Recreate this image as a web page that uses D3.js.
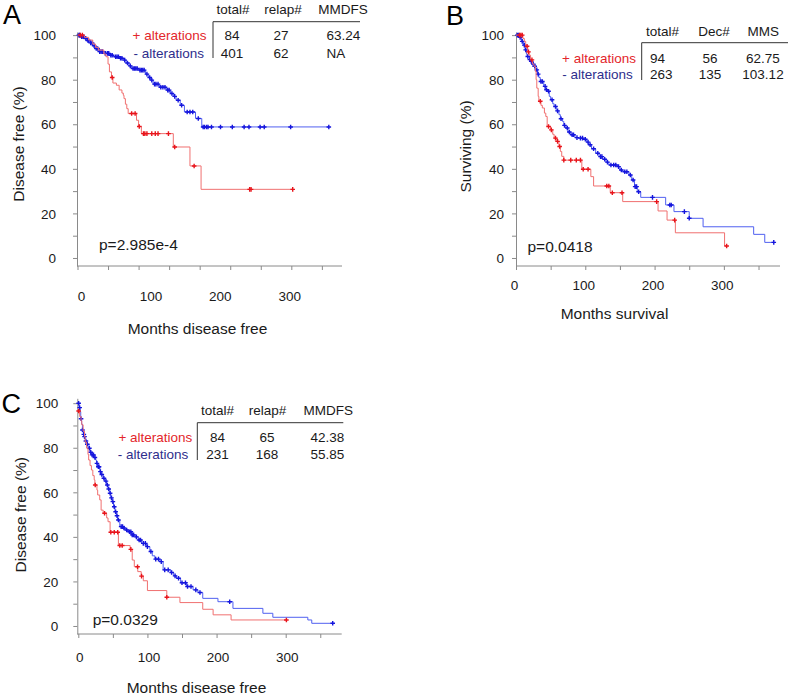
<!DOCTYPE html>
<html><head><meta charset="utf-8">
<script src="https://cdn.jsdelivr.net/npm/d3@7"></script>
<style>body{margin:0;background:#fff}svg{display:block}text{font-family:"Liberation Sans",Arial,sans-serif}</style>
</head><body><svg id="c" width="790" height="696"></svg>
<script>
// ---------------- data ----------------
const xTickLabels = [0, 100, 200, 300];
const yTickValues = [0, 10, 20, 30, 40, 50, 60, 70, 80, 90, 100];
const xTickMarksA = [0, 44, 88, 132, 176, 220, 264, 308, 352];
const xTickMarksBC = [0, 50, 100, 150, 200, 250, 300, 350];
const seriesNames = ["+ alterations", "- alterations"];

const tableHeadA = ["total#", "relap#", "MMDFS"];
const tableRowsA = [["84", "27", "63.24"], ["401", "62", "NA"]];
const tableHeadB = ["total#", "Dec#", "MMS"];
const tableRowsB = [["94", "56", "62.75"], ["263", "135", "103.12"]];
const tableHeadC = ["total#", "relap#", "MMDFS"];
const tableRowsC = [["84", "65", "42.38"], ["231", "168", "55.85"]];
const pValues = ["p=2.985e-4", "p=0.0418", "p=0.0329"];
const axisTitles = {A: ["Months disease free", "Disease free (%)"], B: ["Months survival", "Surviving (%)"], C: ["Months disease free", "Disease free (%)"]};

// Kaplan-Meier steps [month, percent] and censor times (months)
const stepsA_alt = [[0,100],[10,99],[16,97.8],[22,96],[26,94.5],[30,93.3],[38,91.5],[41,90.3],[44,87],[46,83.5],[49,81],[51,78.5],[56,77.5],[60,75.4],[64,74],[66,73],[67,71.5],[69,69],[71,67],[73,64.8],[85,61.8],[88,59],[92,55.8],[138,49.8],[162,41.3],[178,30.8]];
const censorA_alt = [4,7,50,78,83,89,95,97,100,107,112,116,131,140,168,248,250,310];
const stepsA_no = [[0,100],[5,99.3],[10,98.5],[14,97.6],[18,96.5],[22,95.2],[26,94],[30,92.6],[38,91.8],[46,91],[52,90.3],[60,89.6],[66,88.8],[70,87.5],[74,86.2],[78,85],[88,84.3],[98,82.5],[102,81],[105,79.8],[109,78],[118,76.6],[128,75.3],[134,73.8],[138,72.5],[142,70.8],[148,68.5],[154,65.5],[170,62.6],[179,58.8]];
const censorA_no = [2,3,6,8,9,12,15,16,19,21,24,27,29,32,34,36,40,43,45,48,50,55,57,59,62,64,68,72,76,80,82,84,86,90,92,94,96,100,104,107,111,113,116,120,123,126,130,132,136,140,145,150,158,162,166,174,181,183,186,188,193,206,223,240,247,263,269,307,362];

const stepsB_alt = [[0,100],[10,98.5],[12,97.2],[14,95],[17,92.5],[19,91],[21,88.9],[24,87],[26,86],[28,83.7],[29,80],[30,76.2],[32,72.5],[33,70.3],[36,68.5],[38,67.3],[41,65],[43,63.5],[45,59],[50,57.5],[53,55.5],[55,53.8],[59,52.3],[62,50],[64,47.8],[66,45.6],[69,43.9],[95,39.8],[108,36.5],[112,32.3],[136,29.3],[154,25.3],[205,21.1],[218,17],[230,11.3],[301,5.4]];
const censorB_alt = [5,7,9,16,18,23,35,47,51,57,60,63,69,79,87,93,97,104,131,134,139,153,203,229,304];
const stepsB_no = [[0,100],[5,99],[8,97.2],[11,95.5],[13,93.4],[15,91.5],[16,90.4],[19,89],[21,88.2],[23,87],[26,86],[28,84.4],[31,82.5],[33,81],[35,79.2],[40,77],[43,75.5],[45,74.8],[48,72.5],[50,71],[53,69.2],[55,68],[58,66],[62,64.3],[64,62.5],[67,61.3],[69,59.5],[72,58.3],[75,56.5],[79,55.3],[85,54],[90,53.8],[97,53.3],[102,52],[105,50.8],[109,49],[115,47],[120,45.5],[125,44.3],[130,43],[134,41.7],[146,41],[150,39.5],[154,38.7],[163,37.2],[167,35],[171,32],[175,29.7],[180,27.2],[216,23.8],[228,20.8],[250,17.8],[270,14],[343,10.6],[359,7]];
const censorB_no = [2,4,6,9,12,14,17,20,22,25,27,30,32,36,38,42,44,47,52,57,60,65,70,74,77,81,83,88,93,96,100,104,107,112,118,122,124,128,132,137,141,144,148,152,157,160,165,169,172,174,177,197,222,224,243,250,372];

const stepsC_alt = [[0,96.5],[2,94],[4,92],[5,90.3],[7,87.5],[9,85],[10,82.5],[12,79.8],[14,77],[15,74.5],[17,72],[19,70],[21,67.5],[23,65.6],[24,63.3],[27,61],[28,58.8],[31,56.6],[33,52],[36,50.6],[41,48.5],[43,46.8],[46,42.1],[58,36.1],[75,34.4],[78,29.6],[81,26.6],[86,24.4],[91,22.4],[94,20.3],[100,15.9],[128,12.9],[147,10.5],[180,7.5],[195,5],[221,2.7]];
const censorC_alt = [0.5,24.5,38,47,52,57,60,63.5,76,85.7,91.5,128,301];
const stepsC_no = [[0,100],[1,98],[2.5,96.2],[3.5,93],[4.8,90.6],[6,88],[7.5,86],[8.7,85],[10,83],[12,81.6],[15.4,79.8],[17,78],[19.3,76.8],[24,75.6],[25,74.5],[26.5,73],[28,71.5],[31.3,69.3],[33,68],[36,66.3],[38,65],[41,63.3],[43,61.5],[45.7,59.6],[47,57.5],[49,55.8],[51,53.5],[53,51.3],[55,49.5],[56.8,47.6],[60,44.6],[65,44],[67.4,43.1],[72,42.3],[77,40.9],[82,40],[86.6,38.6],[91.5,37.1],[98.7,35.6],[103.5,33.4],[107,31.5],[110.7,30],[118,28.9],[122.7,25.2],[133.8,24],[138,22.5],[142,21.4],[148,19.4],[156.4,17.7],[166,16.2],[173,15],[180,12.4],[202,10.9],[223.7,7.9],[267,5.7],[281.4,3.9],[332,2.7],[337.7,1.2]];
const censorC_no = [0.5,2,4,6,8,9,11,13,16,18,20,22,24,27,29,30,32,34,37,40,42,44,46,48,50,52,54,56,58,62,64,66,70,74,76,78,80,84,88,90,94,97,100,105,112,116,120,125,130,135,140,145,150,155,158,163,170,176,219,368];

// ---------------- style ----------------
const RED_LINE = "#f07070", RED_MARK = "#e8141b", RED_TEXT = "#e3262b";
const BLUE_LINE = "#5060f0", BLUE_MARK = "#1515dd", BLUE_TEXT = "#2e2e8c";
const AXIS = "#8a8a8a", INK = "#1a1a1a";

const svg = d3.select("#c");
svg.append("rect").attr("width", 790).attr("height", 696).attr("fill", "#fff");

function survAt(steps, t) {
  let v = steps[0][1];
  for (const s of steps) { if (s[0] <= t) v = s[1]; }
  return v;
}

function drawPanel(cfg) {
  const g = svg.append("g");
  const x = d3.scaleLinear().domain([0, 381]).range([cfg.x0, cfg.x1]);
  const y = d3.scaleLinear().domain(cfg.yDom).range([cfg.yBot, cfg.yTop]);

  // y axis
  const ya = g.append("g").attr("transform", `translate(${cfg.yAxisX},0)`)
    .call(d3.axisLeft(y).tickValues(yTickValues).tickSize(4).tickSizeOuter(0)
      .tickPadding(cfg.yPad).tickFormat(d => d % 20 === 0 ? d : ""));
  ya.selectAll("path,line").attr("stroke", AXIS);
  ya.selectAll("text").attr("fill", INK).style("font-size", "13.5px").attr("dy", "0.35em")
    .style("font-family", '"Liberation Sans",Arial,sans-serif');

  // x axis
  const xa = g.append("g").attr("transform", `translate(0,${cfg.yBot})`)
    .call(d3.axisBottom(x).tickValues(cfg.xMarks).tickSize(4).tickSizeOuter(0).tickFormat(""));
  xa.select(".domain").attr("d", `M${cfg.yAxisX},0H${cfg.x1}`);
  xa.selectAll("path,line").attr("stroke", AXIS);
  g.selectAll(".xl").data(xTickLabels).join("text")
    .attr("x", d => x(d) + cfg.xLabDx).attr("y", cfg.xLabY)
    .attr("text-anchor", "middle").attr("fill", INK).style("font-size", "13.5px").text(d => d);

  // titles
  g.append("text").attr("x", cfg.xTitle[0]).attr("y", cfg.xTitle[1]).attr("text-anchor", "middle")
    .attr("fill", INK).style("font-size", "15.5px").text(cfg.titles[0]);
  g.append("text").attr("transform", `translate(${cfg.yTitle[0]},${cfg.yTitle[1]}) rotate(-90)`)
    .attr("text-anchor", "middle").attr("fill", INK).style("font-size", "15.5px").text(cfg.titles[1]);
  g.append("text").attr("x", cfg.letter[0]).attr("y", cfg.letter[1]).attr("fill", "#000")
    .style("font-size", "27px").text(cfg.letterText);
  g.append("text").attr("x", cfg.pPos[0]).attr("y", cfg.pPos[1]).attr("fill", INK)
    .style("font-size", "15.5px").text(cfg.pText);

  // curves
  const line = d3.line().x(d => x(d[0])).y(d => y(d[1])).curve(d3.curveStepAfter);
  cfg.series.forEach(s => {
    const tEnd = Math.max(d3.max(s.censor), s.steps[s.steps.length - 1][0]);
    const pts = s.steps.concat([[tEnd, s.steps[s.steps.length - 1][1]]]);
    g.append("path").attr("d", line(pts)).attr("fill", "none").attr("stroke", s.line).attr("stroke-width", 1);
    g.selectAll(null).data(s.censor).join("path")
      .attr("d", t => { const px = x(t), py = y(survAt(s.steps, t));
        return `M${px - 2.3},${py}h4.6M${px},${py - 2.3}v4.6`; })
      .attr("stroke", s.mark).attr("stroke-width", 1.4).attr("fill", "none");
  });

  // table
  const tb = cfg.table;
  g.append("line").attr("x1", tb.lineX).attr("x2", tb.lineX2).attr("y1", tb.lineY).attr("y2", tb.lineY)
    .attr("stroke", "#333").attr("stroke-width", 1);
  g.append("line").attr("x1", tb.lineX).attr("x2", tb.lineX).attr("y1", tb.lineY).attr("y2", tb.lineYB)
    .attr("stroke", "#333").attr("stroke-width", 1);
  tb.head.forEach((h, i) => g.append("text").attr("x", tb.headX[i]).attr("y", tb.headY)
    .attr("text-anchor", "middle").attr("fill", INK).style("font-size", "13.5px").text(h));
  tb.rows.forEach((r, j) => {
    r.forEach((v, i) => g.append("text").attr("x", tb.colX[i]).attr("y", tb.rowY[j])
      .attr("text-anchor", tb.colAnchor[i]).attr("fill", INK).style("font-size", "13.5px").text(v));
    g.append("text").attr("x", tb.legX[j]).attr("y", tb.rowY[j]).attr("text-anchor", "end")
      .attr("fill", j === 0 ? RED_TEXT : BLUE_TEXT).style("font-size", "13.5px").text(seriesNames[j]);
  });
}

drawPanel({
  letterText: "A", letter: [3, 23.5], x0: 77.5, x1: 342, yAxisX: 77, yDom: [-3.6, 101.4], yBot: 266, yTop: 32,
  yPad: 17, xMarks: xTickMarksA, xLabDx: 4, xLabY: 300.5, titles: axisTitles.A,
  xTitle: [197.5, 334], yTitle: [24, 144], pText: pValues[0], pPos: [99, 249.5],
  series: [
    {steps: stepsA_no, censor: censorA_no, line: BLUE_LINE, mark: BLUE_MARK},
    {steps: stepsA_alt, censor: censorA_alt, line: RED_LINE, mark: RED_MARK}],
  table: {head: tableHeadA, rows: tableRowsA, headX: [233, 283, 343], headY: 14,
    colX: [232, 281, 326.5], colAnchor: ["middle", "middle", "start"], rowY: [39.5, 57.7],
    legX: [206.5, 204], lineX: 213, lineX2: 360, lineY: 21.7, lineYB: 58}
});
drawPanel({
  letterText: "B", letter: [446, 25], x0: 516, x1: 780, yAxisX: 516, yDom: [-3.6, 101.4], yBot: 266, yTop: 32,
  yPad: 8, xMarks: xTickMarksBC, xLabDx: -1.5, xLabY: 290, titles: axisTitles.B,
  xTitle: [614.5, 319], yTitle: [471, 146.5], pText: pValues[1], pPos: [527.5, 252],
  series: [
    {steps: stepsB_no, censor: censorB_no, line: BLUE_LINE, mark: BLUE_MARK},
    {steps: stepsB_alt, censor: censorB_alt, line: RED_LINE, mark: RED_MARK}],
  table: {head: tableHeadB, rows: tableRowsB, headX: [662.5, 714, 763.3], headY: 36,
    colX: [650, 710, 763], colAnchor: ["start", "middle", "middle"], rowY: [62.7, 79.3],
    legX: [636, 632.7], lineX: 641.7, lineX2: 788, lineY: 42.7, lineYB: 80}
});
drawPanel({
  letterText: "C", letter: [1.5, 413.3], x0: 78.3, x1: 341.7, yAxisX: 77.3, yDom: [-3.6, 102.2], yBot: 634, yTop: 398.3,
  yPad: 15, xMarks: xTickMarksBC, xLabDx: 1.5, xLabY: 661.5, titles: axisTitles.C,
  xTitle: [196.5, 693], yTitle: [26.3, 514.7], pText: pValues[2], pPos: [92.7, 625],
  series: [
    {steps: stepsC_no, censor: censorC_no, line: BLUE_LINE, mark: BLUE_MARK},
    {steps: stepsC_alt, censor: censorC_alt, line: RED_LINE, mark: RED_MARK}],
  table: {head: tableHeadC, rows: tableRowsC, headX: [217.5, 267.5, 328.3], headY: 415,
    colX: [217.5, 267, 327.5], colAnchor: ["middle", "middle", "middle"], rowY: [442.3, 459.3],
    legX: [192.3, 188.3], lineX: 197.3, lineX2: 343.3, lineY: 422.7, lineYB: 460}
});
</script></body></html>
